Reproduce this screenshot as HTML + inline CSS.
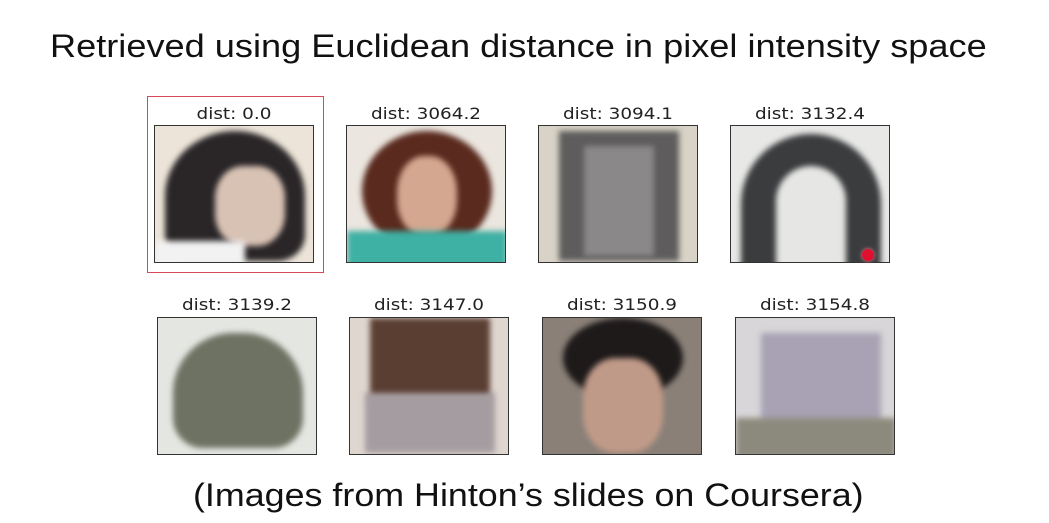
<!DOCTYPE html>
<html><head><meta charset="utf-8"><style>
body{margin:0;width:1049px;height:523px;background:#fff;position:relative;overflow:hidden;font-family:"Liberation Sans",sans-serif}
.t{position:absolute;white-space:nowrap;color:#111;transform-origin:left top}
.lbl{position:absolute;font-family:"DejaVu Sans",sans-serif;font-size:16px;color:#222;text-align:center;width:180px;transform:scaleX(1.15)}
.img{position:absolute;border:1.5px solid #333;overflow:hidden;box-sizing:border-box}
.img div{position:absolute;filter:blur(3px)}
</style></head><body>
<div class="t" style="left:50px;top:28px;font-size:32px;transform:scaleX(1.13)">Retrieved using Euclidean distance in pixel intensity space</div>
<div style="position:absolute;left:147px;top:96px;width:175px;height:175px;border:1.5px solid #d9485a"></div>

<div class="lbl" style="left:144px;top:104px">dist: 0.0</div>
<div class="img" style="left:154px;top:125px;width:160px;height:138px;background:#ece4d8">
<div style="left:10px;top:5px;width:140px;height:130px;background:#2a2628;border-radius:50% 50% 20% 20%"></div>
<div style="left:60px;top:40px;width:70px;height:80px;background:#d8c2b4;border-radius:40%"></div>
<div style="left:0;top:115px;width:90px;height:25px;background:#f2f2f2"></div></div>

<div class="lbl" style="left:336px;top:104px">dist: 3064.2</div>
<div class="img" style="left:346px;top:125px;width:160px;height:138px;background:#ebe6df">
<div style="left:15px;top:5px;width:130px;height:120px;background:#5a2a1e;border-radius:50%"></div>
<div style="left:50px;top:30px;width:60px;height:80px;background:#d3a790;border-radius:45%"></div>
<div style="left:0;top:105px;width:160px;height:40px;background:#3fb0a4"></div></div>

<div class="lbl" style="left:528px;top:104px">dist: 3094.1</div>
<div class="img" style="left:538px;top:125px;width:160px;height:138px;background:#d8d3c6">
<div style="left:20px;top:5px;width:120px;height:130px;background:#5e5c5c"></div>
<div style="left:45px;top:20px;width:70px;height:110px;background:#8a8888"></div></div>

<div class="lbl" style="left:720px;top:104px">dist: 3132.4</div>
<div class="img" style="left:730px;top:125px;width:160px;height:138px;background:#e8e8e6">
<div style="left:10px;top:8px;width:140px;height:170px;background:#3a3c3e;border-radius:70px 70px 0 0"></div>
<div style="left:45px;top:40px;width:70px;height:120px;background:#e6e6e4;border-radius:35px 35px 0 0"></div></div>
<div style="position:absolute;left:862px;top:249px;width:12px;height:12px;border-radius:50%;background:#e01030;box-shadow:0 0 4px #f08090"></div>

<div class="lbl" style="left:147px;top:295px">dist: 3139.2</div>
<div class="img" style="left:157px;top:317px;width:160px;height:138px;background:#e4e6e2">
<div style="left:15px;top:15px;width:130px;height:115px;background:#6e7262;border-radius:60px 60px 30px 30px"></div></div>

<div class="lbl" style="left:339px;top:295px">dist: 3147.0</div>
<div class="img" style="left:349px;top:317px;width:160px;height:138px;background:#e0d6d0">
<div style="left:20px;top:0;width:120px;height:80px;background:#5a3e32"></div>
<div style="left:15px;top:75px;width:130px;height:60px;background:#a49ca0"></div></div>

<div class="lbl" style="left:532px;top:295px">dist: 3150.9</div>
<div class="img" style="left:542px;top:317px;width:160px;height:138px;background:#8a8078">
<div style="left:20px;top:0;width:120px;height:80px;background:#1e1a1a;border-radius:50%"></div>
<div style="left:40px;top:40px;width:80px;height:95px;background:#c09a88;border-radius:40%"></div></div>

<div class="lbl" style="left:725px;top:295px">dist: 3154.8</div>
<div class="img" style="left:735px;top:317px;width:160px;height:138px;background:#d8d6d8">
<div style="left:25px;top:15px;width:120px;height:90px;background:#a8a2b4"></div>
<div style="left:0;top:100px;width:160px;height:40px;background:#8c8a7c"></div></div>

<div class="t" style="left:193px;top:477px;font-size:32px;transform:scaleX(1.12)">(Images from Hinton’s slides on Coursera)</div>
</body></html>
